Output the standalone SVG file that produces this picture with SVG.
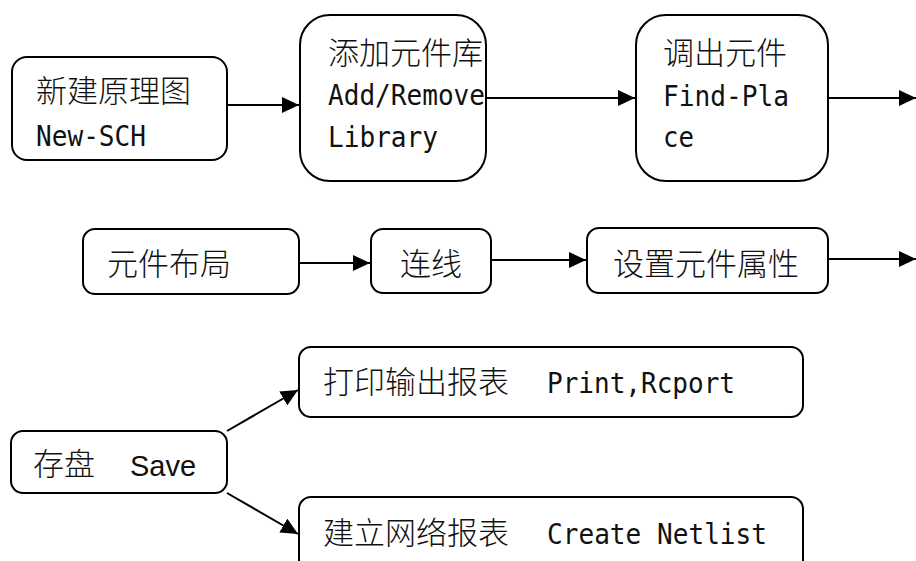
<svg xmlns="http://www.w3.org/2000/svg" width="916" height="561" viewBox="0 0 916 561">
  <style>
    .box { fill: #fff; stroke: #000; stroke-width: 2; }
    .cjk { font-family: "Noto Sans CJK SC", "Noto Sans", sans-serif; font-size: 31px; font-weight: 300; fill: #111; }
    .mono { font-family: "DejaVu Sans Mono", "Liberation Mono", monospace; font-size: 29px; fill: #111; }
    .sans { font-family: "Liberation Sans", Arial, sans-serif; font-size: 29px; fill: #111; }
    .edge { stroke: #000; stroke-width: 2; fill: none; marker-end: url(#arrow); }
  </style>
  <defs>
    <marker id="arrow" markerUnits="userSpaceOnUse" markerWidth="18" markerHeight="16" refX="17" refY="8" orient="auto">
      <path d="M0,0 L17,8 L0,16 Z" fill="#000"/>
    </marker>
  </defs>
  <rect width="916" height="561" fill="#fff"/>

  <!-- connectors -->
  <g id="connectors">
    <line class="edge" x1="227" y1="105" x2="299" y2="105"/>
    <line class="edge" x1="486" y1="98" x2="635" y2="98"/>
    <line class="edge" x1="828" y1="98" x2="916" y2="98"/>
    <line class="edge" x1="299" y1="263" x2="370" y2="263"/>
    <line class="edge" x1="491" y1="260" x2="586" y2="260"/>
    <line class="edge" x1="828" y1="259" x2="916" y2="259"/>
    <line class="edge" x1="227" y1="431" x2="298" y2="390"/>
    <line class="edge" x1="227" y1="493" x2="298" y2="534"/>
  </g>

  <!-- row 1 -->
  <g id="new-sch">
    <rect class="box" x="12" y="57" width="215" height="103" rx="15"/>
    <text class="cjk" x="36" y="102">新建原理图</text>
    <text class="mono" x="36" y="146" textLength="110" lengthAdjust="spacingAndGlyphs">New-SCH</text>
  </g>
  <g id="add-library">
    <rect class="box" x="300" y="15" width="186" height="166" rx="30"/>
    <text class="cjk" x="328" y="64">添加元件库</text>
    <text class="mono" x="328" y="105" textLength="157" lengthAdjust="spacingAndGlyphs">Add/Remove</text>
    <text class="mono" x="328" y="147" textLength="110" lengthAdjust="spacingAndGlyphs">Library</text>
  </g>
  <g id="find-place">
    <rect class="box" x="636" y="15" width="192" height="166" rx="30"/>
    <text class="cjk" x="663" y="64">调出元件</text>
    <text class="mono" x="663" y="106" textLength="126" lengthAdjust="spacingAndGlyphs">Find-Pla</text>
    <text class="mono" x="663" y="147" textLength="31" lengthAdjust="spacingAndGlyphs">ce</text>
  </g>

  <!-- row 2 -->
  <g id="layout">
    <rect class="box" x="83" y="229" width="216" height="65" rx="12"/>
    <text class="cjk" x="107" y="275">元件布局</text>
  </g>
  <g id="wiring">
    <rect class="box" x="371" y="229" width="120" height="64" rx="12"/>
    <text class="cjk" x="400" y="275">连线</text>
  </g>
  <g id="attributes">
    <rect class="box" x="587" y="228" width="241" height="65" rx="12"/>
    <text class="cjk" x="613" y="275">设置元件属性</text>
  </g>

  <!-- row 3 -->
  <g id="save">
    <rect class="box" x="11" y="431" width="216" height="62" rx="12"/>
    <text class="cjk" x="33" y="475">存盘</text>
    <text class="sans" x="130" y="476">Save</text>
  </g>
  <g id="print-report">
    <rect class="box" x="299" y="347" width="504" height="70" rx="12"/>
    <text class="cjk" x="323" y="393">打印输出报表</text>
    <text class="mono" x="547" y="393" textLength="188" lengthAdjust="spacingAndGlyphs">Print,Rcport</text>
  </g>
  <g id="netlist">
    <rect class="box" x="299" y="497" width="504" height="80" rx="12"/>
    <text class="cjk" x="323" y="544">建立网络报表</text>
    <text class="mono" x="547" y="544" textLength="220" lengthAdjust="spacingAndGlyphs">Create Netlist</text>
  </g>
</svg>
